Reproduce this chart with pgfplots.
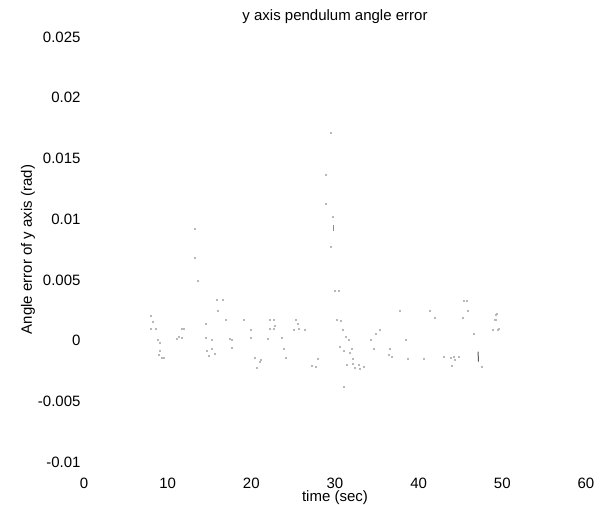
\documentclass[border=0pt]{standalone}
\usepackage{fontspec}
\setmainfont{Liberation Sans}
\usepackage{pgfplots}
\pgfplotsset{compat=1.18}

\pgfplotstableread{
t y
7.97 0.00202
8.16 0.00159
8.21 0.00155
7.97 0.00101
8.61 0.00095
8.76 0.00011
9.00 -0.00017
9.00 -0.00083
8.88 -0.00113
9.29 -0.00141
9.56 -0.00141
11.08 0.00013
11.27 0.00032
11.68 0.00024
11.68 0.00095
11.95 0.00095
13.27 0.00925
13.18 0.00686
13.54 0.00493
14.50 0.00142
14.50 0.00027
14.67 -0.00083
14.86 -0.00121
15.26 0.00011
15.26 -0.00064
15.66 -0.00105
15.86 0.00340
15.93 0.00246
16.58 0.00334
16.97 0.00175
17.37 0.00019
17.65 0.00005
17.65 -0.00059
19.12 0.00175
19.92 0.00087
19.96 0.00027
20.40 -0.00141
21.12 -0.00154
21.04 -0.00176
20.64 -0.00220
21.91 0.00019
22.15 0.00170
22.15 0.00098
22.63 0.00098
22.71 0.00170
22.83 0.00126
23.63 0.00021
23.82 -0.00067
24.14 -0.00138
25.02 0.00093
25.34 0.00170
25.49 0.00142
25.61 0.00098
26.41 0.00093
27.21 -0.00209
27.73 -0.00215
27.88 -0.00146
28.92 0.01364
28.92 0.01125
29.52 0.01709
29.73 0.01020
29.52 0.00773
30.00 0.00411
30.20 0.00170
30.39 0.00408
30.60 -0.00050
30.68 0.00164
30.92 0.00093
31.08 -0.00083
31.08 -0.00380
31.31 0.00032
31.40 -0.00201
31.59 0.00011
31.71 -0.00096
32.00 -0.00067
32.11 -0.00149
32.11 -0.00187
32.39 -0.00223
32.78 -0.00201
32.99 -0.00228
33.38 -0.00215
34.30 0.00011
34.58 -0.00064
34.82 0.00060
35.29 0.00093
36.37 -0.00113
36.57 -0.00064
36.78 -0.00129
37.77 0.00246
38.49 0.00011
38.72 -0.00146
40.55 -0.00146
41.35 0.00246
41.95 0.00186
42.94 -0.00133
43.83 -0.00138
43.95 -0.00209
44.22 -0.00133
44.26 -0.00154
44.74 -0.00133
45.26 0.00186
45.33 0.00328
45.74 0.00328
45.81 0.00244
46.53 0.00060
47.53 -0.00215
48.80 0.00093
49.12 0.00170
49.16 0.00170
49.24 0.00213
49.32 0.00219
49.45 0.00093
49.52 0.00098
}\scatterdata

\begin{document}
\begin{tikzpicture}
\begin{axis}[
    scale only axis,
    width=502pt, height=425pt,
    xmin=0, xmax=60,
    ymin=-0.01, ymax=0.025,
    scaled y ticks=false,
    axis line style={draw=none},
    major tick length=0pt,
    xtick={0,10,20,30,40,50,60},
    xticklabels={0,10,20,30,40,50,60},
    ytick={-0.01,-0.005,0,0.005,0.01,0.015,0.02,0.025},
    yticklabels={-0.01,-0.005,0,0.005,0.01,0.015,0.02,0.025},
    tick label style={font=\fontsize{15}{17}\selectfont},
    label style={font=\fontsize{15}{17}\selectfont},
    title style={font=\fontsize{15}{17}\selectfont, yshift=4pt},
    xticklabel style={yshift=-12pt},
    xlabel={time (sec)},
    ylabel={Angle error of y axis (rad)},
    xlabel style={yshift=4pt},
    ylabel style={yshift=-4pt},
    title={y axis pendulum angle error},
]
% faint scanned trace: only isolated dots survive
\addplot[only marks, mark=square*, mark size=0.5pt, color=black!28,
    mark options={draw=none, fill=black!28}] table[x=t, y=y] {\scatterdata};
\addplot[black!65, line width=1pt] coordinates {(47.10,-0.00092) (47.15,-0.00174)};
\addplot[black!45, line width=0.7pt] coordinates {(29.80,0.00955) (29.80,0.00900)};
\end{axis}
\pgfresetboundingbox
\path[use as bounding box] (-84pt,-42pt) rectangle (516pt,462pt);
\end{tikzpicture}
\end{document}
